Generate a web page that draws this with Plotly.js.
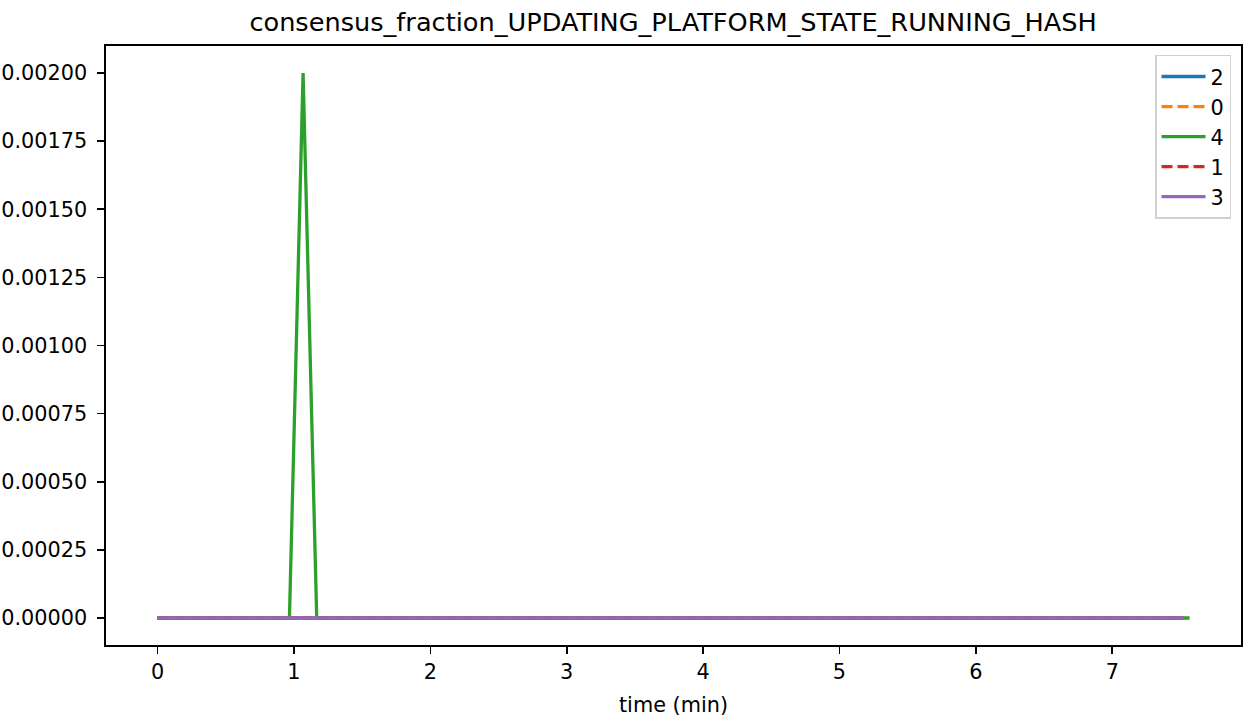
<!DOCTYPE html>
<html>
<head>
<meta charset="utf-8">
<script src="https://cdn.plot.ly/plotly-3.0.1.min.js"></script>
<style>
  html, body { margin: 0; padding: 0; background: #ffffff; }
  #chart { width: 1243px; height: 721px; }
</style>
</head>
<body>
<div id="chart"></div>
<script>
// ---- data ----
const seriesNames = ["2", "0", "4", "1", "3"];
const seriesColors = ["#1f77b4", "#ff7f0e", "#2ca02c", "#d62728", "#9467bd"];
const seriesDash = ["solid", "11px,5px", "solid", "11px,5px", "solid"];

const time_2 = [0, 7.52];
const value_2 = [0, 0];
const time_0 = [0, 7.52];
const value_0 = [0, 0];
const time_4 = [0, 0.967, 1.067, 1.167, 7.567];
const value_4 = [0, 0, 0.002, 0, 0];
const time_1 = [0, 7.52];
const value_1 = [0, 0];
const time_3 = [0, 7.52];
const value_3 = [0, 0];

const xTickVals = [0, 1, 2, 3, 4, 5, 6, 7];
const yTickVals = [0, 0.00025, 0.0005, 0.00075, 0.001, 0.00125, 0.0015, 0.00175, 0.002];

const titleText = "consensus_fraction_UPDATING_PLATFORM_STATE_RUNNING_HASH";
const xTitle = "time (min)";

const times = [time_2, time_0, time_4, time_1, time_3];
const values = [value_2, value_0, value_4, value_1, value_3];

const traces = seriesNames.map((n, i) => ({
  type: "scatter",
  mode: "lines",
  name: n,
  x: times[i],
  y: values[i],
  line: { color: seriesColors[i], width: 3.3, dash: seriesDash[i] },
  hoverinfo: "skip"
}));

const font = "DejaVu Sans, sans-serif";

const layout = {
  width: 1243,
  height: 721,
  paper_bgcolor: "#ffffff",
  plot_bgcolor: "#ffffff",
  margin: { l: 106, r: 2, t: 46, b: 76, pad: 0 },
  font: { family: font, size: 20.8, color: "#000000" },
  title: {
    text: titleText,
    font: { family: font, size: 25.6, color: "#000000" },
    x: 0.5415, xref: "container", xanchor: "center",
    y: 0.9695, yref: "container", yanchor: "middle"
  },
  xaxis: {
    range: [-0.378, 7.944],
    tickvals: xTickVals,
    ticktext: xTickVals.map(String),
    ticks: "outside", ticklen: 7, tickwidth: 1.6, tickcolor: "#000",
    showline: true, linecolor: "#000", linewidth: 1.6, mirror: true,
    showgrid: false, zeroline: false,
    tickfont: { family: font, size: 20.8 },
    title: { text: xTitle, font: { family: font, size: 20.8 }, standoff: 15 }
  },
  yaxis: {
    range: [-0.0000991, 0.0020991],
    tickvals: yTickVals,
    ticktext: yTickVals.map(v => v.toFixed(5)),
    ticks: "outside", ticklen: 7, tickwidth: 1.6, tickcolor: "#000",
    ticklabelstandoff: 6,
    showline: true, linecolor: "#000", linewidth: 1.6, mirror: true,
    showgrid: false, zeroline: false,
    tickfont: { family: font, size: 20.8 }
  },
  showlegend: true,
  legend: {
    x: 0.9912, xanchor: "right",
    y: 0.985, yanchor: "top",
    bgcolor: "rgba(255,255,255,0.8)",
    bordercolor: "#d0d0d0", borderwidth: 1.5,
    font: { family: font, size: 20.8, color: "#000" },
    itemwidth: 44
  },
  hovermode: false
};

Plotly.newPlot("chart", traces, layout, { displayModeBar: false, staticPlot: true });
</script>
</body>
</html>
